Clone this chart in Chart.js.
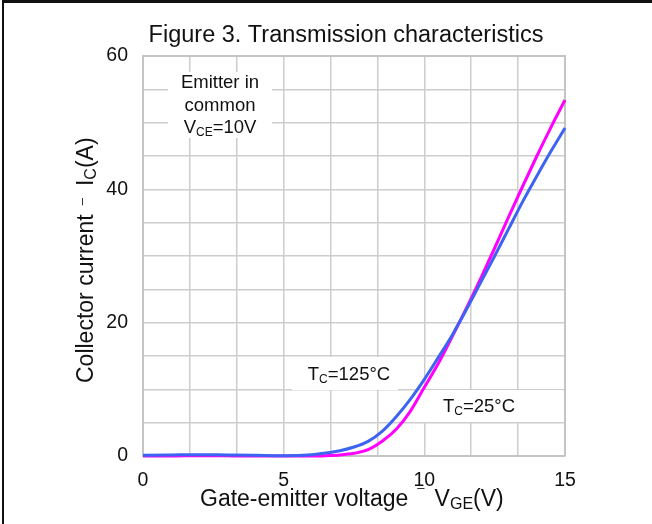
<!DOCTYPE html>
<html>
<head>
<meta charset="utf-8">
<script src="https://cdn.jsdelivr.net/npm/chart.js@4/dist/chart.umd.min.js"></script>
<style>
  body { margin: 0; background: #fff; }
  #wrap { position: relative; width: 652px; height: 524px; }
  #frame {
    position: absolute; left: 2px; top: 0; width: 650px; height: 524px;
    border-top: 3px solid #111; border-left: 2px solid #111;
    box-sizing: border-box; pointer-events: none;
  }
</style>
</head>
<body>
<div id="wrap">
  <canvas id="transChart" width="652" height="524"></canvas>
  <div id="frame"></div>
</div>
<script>
// gate-emitter voltage (V)
const volts = [0, 1, 2, 3, 4, 5, 6, 6.5, 7, 7.5, 8, 8.5, 9, 9.5, 10, 10.5, 11, 11.5, 12, 12.5, 13, 13.5, 14, 14.5, 15];
// collector current (A), Tc = 25°C
const ic25 = [0, 0, 0.05, 0.02, 0, 0, 0, 0.05, 0.15, 0.4, 0.95, 2.2, 4.0, 6.7, 10.3, 13.9, 18.0, 22.2, 26.6, 31.2, 35.9, 40.5, 45.0, 49.3, 53.4];
// collector current (A), Tc = 125°C
const ic125 = [0.1, 0.15, 0.2, 0.15, 0.1, 0.05, 0.2, 0.45, 0.8, 1.35, 2.2, 3.7, 5.9, 8.5, 11.5, 14.8, 18.2, 22.0, 26.0, 30.0, 34.1, 38.2, 42.0, 45.7, 49.2];

const xTicks = [0, 5, 10, 15];
const yTicks = [0, 20, 40, 60];

const FONT = "'Liberation Sans', Arial, sans-serif";

// draws text made of pieces [text, size, dy, gapBefore]
function drawRich(ctx, parts, x, y, align) {
  let w = 0;
  parts.forEach(p => {
    ctx.font = p[1] + "px " + FONT;
    w += ctx.measureText(p[0]).width + (p[3] || 0);
  });
  let cx = align === "center" ? x - w / 2 : x;
  ctx.textAlign = "left";
  ctx.textBaseline = "alphabetic";
  parts.forEach(p => {
    ctx.font = p[1] + "px " + FONT;
    cx += (p[3] || 0);
    ctx.fillText(p[0], cx, y + (p[2] || 0));
    cx += ctx.measureText(p[0]).width;
  });
}

const textPlugin = {
  id: "textPlugin",
  beforeDatasetsDraw(chart) {
    const ctx = chart.ctx;
    const a = chart.chartArea;
    ctx.save();
    // frame on top/right
    ctx.strokeStyle = "#c4c4c4";
    ctx.lineWidth = 2;
    ctx.beginPath();
    ctx.moveTo(a.left, a.top);
    ctx.lineTo(a.right, a.top);
    ctx.lineTo(a.right, a.bottom);
    ctx.stroke();

    // white note boxes
    ctx.fillStyle = "#fff";
    ctx.fillRect(168, 72, 104, 66);
    ctx.fillRect(292, 357, 106, 33);
    ctx.fillRect(424, 390, 139, 32);

    ctx.fillStyle = "#111";
    drawRich(ctx, [["Emitter in", 18.5]], 220, 88, "center");
    drawRich(ctx, [["common", 18.5]], 220, 111, "center");
    drawRich(ctx, [["V", 18.5], ["CE", 12, 3], ["=10V", 18.5]], 220, 133, "center");
    drawRich(ctx, [["T", 18.5], ["C", 12, 3], ["=125°C", 18.5]], 349, 380, "center");
    drawRich(ctx, [["T", 18.5], ["C", 12, 3], ["=25°C", 18.5]], 479, 412, "center");
    ctx.restore();
  },
  afterDraw(chart) {
    const ctx = chart.ctx;
    ctx.save();
    ctx.fillStyle = "#111";
    drawRich(ctx, [["Figure 3. Transmission characteristics", 23.5]], 346, 42, "center");

    // x axis title
    drawRich(ctx, [["Gate-emitter voltage", 23], ["–", 13, -14, 9], ["V", 23, 0, 10], ["GE", 16, 3], ["(V)", 23]], 200, 506, "left");

    // y axis title, rotated
    ctx.translate(93, 383);
    ctx.rotate(-Math.PI / 2);
    drawRich(ctx, [["Collector current", 23], ["–", 13, -7, 9], ["I", 23, 0, 12], ["C", 16, 3], ["(A)", 23]], 0, 0, "left");
    ctx.restore();
  }
};

const canvas = document.getElementById("transChart");

new Chart(canvas, {
  type: "line",
  data: {
    datasets: [
      {
        label: "Tc=125°C",
        data: volts.map((v, i) => ({ x: v, y: ic125[i] })),
        borderColor: "#3d63f2",
        borderWidth: 3,
        pointRadius: 0,
        cubicInterpolationMode: "monotone",
        clip: 6
      },
      {
        label: "Tc=25°C",
        data: volts.map((v, i) => ({ x: v, y: ic25[i] })),
        borderColor: "#ff00ff",
        borderWidth: 3,
        pointRadius: 0,
        cubicInterpolationMode: "monotone",
        clip: 6
      }
    ]
  },
  options: {
    responsive: false,
    animation: false,
    layout: { padding: { top: 56, right: 87, left: 0, bottom: 0 } },
    plugins: {
      legend: { display: false },
      tooltip: { enabled: false }
    },
    scales: {
      x: {
        type: "linear",
        min: 0,
        max: 15,
        afterFit: s => { s.height = 68; },
        grid: { color: "#cdcdcd", lineWidth: 1.5, drawTicks: false },
        border: { color: "#c4c4c4", width: 2 },
        ticks: {
          stepSize: 5 / 3,
          autoSkip: false,
          maxRotation: 0,
          padding: 13,
          color: "#111",
          font: { family: FONT, size: 19.5 },
          callback: v => {
            const hit = xTicks.find(t => Math.abs(t - v) < 1e-6);
            return hit === undefined ? "" : String(hit);
          }
        }
      },
      y: {
        min: 0,
        max: 60,
        afterFit: s => { s.width = 143; },
        grid: { color: "#cdcdcd", lineWidth: 1.5, drawTicks: false },
        border: { color: "#c4c4c4", width: 2 },
        ticks: {
          stepSize: 5,
          autoSkip: false,
          padding: 15,
          color: "#111",
          font: { family: FONT, size: 19.5 },
          callback: v => (yTicks.includes(v) ? String(v) : "")
        }
      }
    }
  },
  plugins: [textPlugin]
});
</script>
</body>
</html>
